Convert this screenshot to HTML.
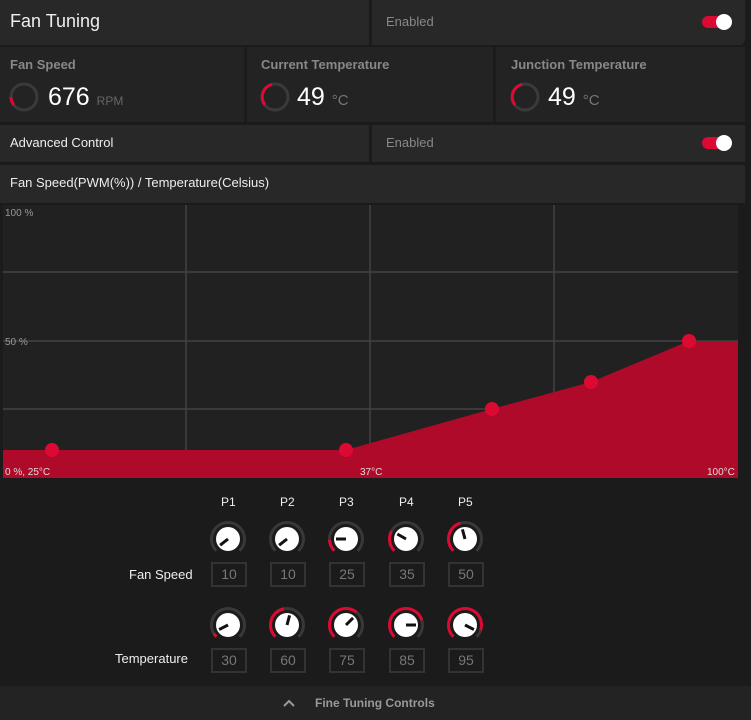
<!DOCTYPE html>
<html><head><meta charset="utf-8"><style>
*{margin:0;padding:0;box-sizing:border-box}
body{width:751px;height:720px;background:#1b1b1b;font-family:"Liberation Sans","DejaVu Sans",sans-serif;position:relative;overflow:hidden;color:#ddd}
.p{position:absolute;background:#282828}
.t{position:absolute;white-space:nowrap}
.tog{position:absolute;width:29px;height:12px;border-radius:6px;background:#dc0a32}
.tog:after{content:"";position:absolute;right:-1px;top:-2px;width:16px;height:16px;border-radius:50%;background:#fff}
.box{position:absolute;width:36px;height:25px;border:2px solid #333;color:#777;font-size:14px;text-align:center;line-height:21px}
</style></head><body>
<div class="p" style="left:0;top:0;width:369px;height:45px"></div>
<div class="t" style="left:10px;top:11px;font-size:18px;color:#eee">Fan Tuning</div>
<div class="p" style="left:372px;top:0;width:373px;height:45px;border-radius:0 0 6px 0"></div>
<div class="t" style="left:386px;top:14px;font-size:13px;color:#888">Enabled</div>
<div class="tog" style="left:702px;top:16px"></div>

<div class="p" style="left:0;top:47px;width:244px;height:75px;background:#232323"></div>
<div class="p" style="left:247px;top:47px;width:246px;height:75px;background:#232323"></div>
<div class="p" style="left:496px;top:47px;width:249px;height:75px;background:#232323"></div>
<div class="t" style="left:10px;top:57px;font-size:13px;color:#888;font-weight:bold">Fan Speed</div>
<div class="t" style="left:261px;top:57px;font-size:13px;color:#888;font-weight:bold">Current Temperature</div>
<div class="t" style="left:511px;top:57px;font-size:13px;color:#888;font-weight:bold">Junction Temperature</div>
<svg style="position:absolute;left:0;top:0" width="751" height="130">
<g fill="none" stroke-width="3">
<g transform="translate(24,97)"><circle r="13" stroke="#3a3a3a"/><path d="M-13,0 A13,13 0 0 0 -10,8" stroke="#dc0a32"/></g>
<g transform="translate(275,97)"><circle r="13" stroke="#3a3a3a"/><path d="M-10,8 A13,13 0 0 1 -3,-12.6" stroke="#dc0a32"/></g>
<g transform="translate(525,97)"><circle r="13" stroke="#3a3a3a"/><path d="M-10,8 A13,13 0 0 1 -3,-12.6" stroke="#dc0a32"/></g>
</g></svg>
<div class="t" style="left:48px;top:83px;font-size:25px;color:#fff">676 <span style="font-size:12px;color:#666">RPM</span></div>
<div class="t" style="left:297px;top:83px;font-size:25px;color:#fff">49 <span style="font-size:15px;color:#777">°C</span></div>
<div class="t" style="left:548px;top:83px;font-size:25px;color:#fff">49 <span style="font-size:15px;color:#777">°C</span></div>

<div class="p" style="left:0;top:125px;width:369px;height:37px"></div>
<div class="t" style="left:10px;top:135px;font-size:13px;color:#eee">Advanced Control</div>
<div class="p" style="left:372px;top:125px;width:373px;height:37px"></div>
<div class="t" style="left:386px;top:135px;font-size:13px;color:#888">Enabled</div>
<div class="tog" style="left:702px;top:137px"></div>
<div class="p" style="left:0;top:165px;width:745px;height:38px"></div>
<div class="t" style="left:10px;top:175px;font-size:13px;color:#eee">Fan Speed(PWM(%)) / Temperature(Celsius)</div>

<svg style="position:absolute;left:0;top:203px" width="751" height="280">
<rect x="3" y="2" width="735" height="273" fill="#212121"/>
<g stroke="#424242" stroke-width="1.5">
<line x1="3" y1="69" x2="738" y2="69"/><line x1="3" y1="138" x2="738" y2="138"/><line x1="3" y1="206" x2="738" y2="206"/>
<line x1="186" y1="2" x2="186" y2="275"/><line x1="370" y1="2" x2="370" y2="275"/><line x1="554" y1="2" x2="554" y2="275"/>
</g>
<polygon points="3,247 346,247 492,206 591,179 689,138 738,138 738,275 3,275" fill="#b00a2a"/>
<g fill="#dc0a32"><circle cx="52" cy="247" r="7"/><circle cx="346" cy="247" r="7"/><circle cx="492" cy="206" r="7"/><circle cx="591" cy="179" r="7"/><circle cx="689" cy="138" r="7"/></g>
<g font-size="10" fill="#999" font-family="Liberation Sans,sans-serif">
<text x="5" y="13">100 %</text><text x="5" y="142">50 %</text>
<text x="5" y="272" fill="#ddd">0 %, 25°C</text><text x="360" y="272" fill="#ddd">37°C</text><text x="707" y="272" fill="#ddd">100°C</text>
</g></svg>

<div class="t" style="left:221px;top:495px;font-size:12px;color:#eee">P1</div>
<div class="t" style="left:280px;top:495px;font-size:12px;color:#eee">P2</div>
<div class="t" style="left:339px;top:495px;font-size:12px;color:#eee">P3</div>
<div class="t" style="left:399px;top:495px;font-size:12px;color:#eee">P4</div>
<div class="t" style="left:458px;top:495px;font-size:12px;color:#eee">P5</div>
<svg style="position:absolute;left:0;top:0" width="751" height="720">
<defs>
<g id="k"><circle r="16.5" fill="none" stroke="#383838" stroke-width="3" stroke-dasharray="77.8 200" transform="rotate(135)"/><circle r="12" fill="#fff"/></g>
</defs>
<g fill="none" stroke-width="3">
<g transform="translate(228,539)"><use href="#k"/><line x2="0" y2="-10" stroke="#111" stroke-width="3" transform="rotate(-128)"/></g>
<g transform="translate(287,539)"><use href="#k"/><line x2="0" y2="-10" stroke="#111" stroke-width="3" transform="rotate(-128)"/></g>
<g transform="translate(346,539)"><use href="#k"/><circle r="16.5" stroke="#dc0a32" stroke-dasharray="12 200" transform="rotate(135)"/><line x2="0" y2="-10" stroke="#111" transform="rotate(-90)"/></g>
<g transform="translate(406,539)"><use href="#k"/><circle r="16.5" stroke="#dc0a32" stroke-dasharray="21 200" transform="rotate(135)"/><line x2="0" y2="-10" stroke="#111" transform="rotate(-60)"/></g>
<g transform="translate(465,539)"><use href="#k"/><circle r="16.5" stroke="#dc0a32" stroke-dasharray="34 200" transform="rotate(135)"/><line x2="0" y2="-10" stroke="#111" transform="rotate(-15)"/></g>
<g transform="translate(228,625)"><use href="#k"/><circle r="16.5" stroke="#dc0a32" stroke-dasharray="4 200" transform="rotate(135)"/><line x2="0" y2="-10" stroke="#111" transform="rotate(-117)"/></g>
<g transform="translate(287,625)"><use href="#k"/><circle r="16.5" stroke="#dc0a32" stroke-dasharray="36 200" transform="rotate(135)"/><line x2="0" y2="-10" stroke="#111" transform="rotate(15)"/></g>
<g transform="translate(346,625)"><use href="#k"/><circle r="16.5" stroke="#dc0a32" stroke-dasharray="50 200" transform="rotate(135)"/><line x2="0" y2="-10" stroke="#111" transform="rotate(45)"/></g>
<g transform="translate(406,625)"><use href="#k"/><circle r="16.5" stroke="#dc0a32" stroke-dasharray="60 200" transform="rotate(135)"/><line x2="0" y2="-10" stroke="#111" transform="rotate(90)"/></g>
<g transform="translate(465,625)"><use href="#k"/><circle r="16.5" stroke="#dc0a32" stroke-dasharray="70 200" transform="rotate(135)"/><line x2="0" y2="-10" stroke="#111" transform="rotate(117)"/></g>
</g></svg>
<div class="t" style="left:129px;top:567px;font-size:13px;color:#eee">Fan Speed</div>
<div class="t" style="left:115px;top:651px;font-size:13px;color:#eee">Temperature</div>
<div class="box" style="left:211px;top:562px">10</div>
<div class="box" style="left:270px;top:562px">10</div>
<div class="box" style="left:329px;top:562px">25</div>
<div class="box" style="left:389px;top:562px">35</div>
<div class="box" style="left:448px;top:562px">50</div>
<div class="box" style="left:211px;top:648px">30</div>
<div class="box" style="left:270px;top:648px">60</div>
<div class="box" style="left:329px;top:648px">75</div>
<div class="box" style="left:389px;top:648px">85</div>
<div class="box" style="left:448px;top:648px">95</div>

<div class="p" style="left:0;top:686px;width:751px;height:34px;background:#232323"></div>
<svg style="position:absolute;left:282px;top:698px" width="16" height="10"><polyline points="2,8 7,3 12,8" fill="none" stroke="#999" stroke-width="2"/></svg>
<div class="t" style="left:315px;top:696px;font-size:12px;color:#999;font-weight:bold">Fine Tuning Controls</div>
</body></html>
